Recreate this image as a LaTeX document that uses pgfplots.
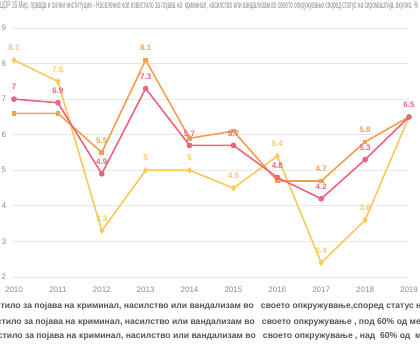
\documentclass[border=0pt]{standalone}
\usepackage{pgfplots}
\pgfplotsset{compat=1.18}
\usepackage{fontspec}
\setmainfont{Liberation Sans}
\usepackage{graphicx}
\definecolor{cy}{HTML}{F9C95C}
\definecolor{co}{HTML}{F3A04A}
\definecolor{cp}{HTML}{EC6580}
\definecolor{gridc}{HTML}{E8E8E8}
\definecolor{tickc}{HTML}{8C8C8C}
\definecolor{legc}{HTML}{555555}
\begin{document}
\begin{tikzpicture}
\useasboundingbox (0pt,0pt) rectangle (420pt,350pt);
\clip (0pt,0pt) rectangle (420pt,350pt);
\node[anchor=north west, inner sep=0, text=tickc] at (0pt,349pt) {\resizebox{418pt}{\height}{\fontsize{10.5}{11}\selectfont ЦОР 16 Мир, правда и силни институции - Население кое известило за појава на\ \ криминал, насилство или вандализам во своето опкружување според статус на сиромаштија, вкупно, \%}};
\begin{axis}[
  at={(11.8pt,73pt)}, anchor=south west, scale only axis,
  width=397.2pt, height=249pt,
  xmin=2009.95, xmax=2019, ymin=2, ymax=9, enlargelimits=false,
  axis line style={draw=none}, ymajorgrids,
  grid style={gridc, line width=0.8pt},
  xtick={2010,...,2019}, ytick={2,...,9},
  major tick length=0pt, tick style={draw=none},
  /pgf/number format/assume math mode=true,
  /pgf/number format/1000 sep={},
  ticklabel style={font=\fontsize{8}{8}\selectfont, text=tickc},
  xticklabel style={anchor=center, yshift=-13pt},
  yticklabel style={anchor=center, xshift=-8pt},
  clip=false,
]
\addplot[cy, line width=1.6pt, mark=diamond*, mark size=2pt] coordinates {(2010,8.1)(2011,7.5)(2012,3.3)(2013,5)(2014,5)(2015,4.5)(2016,5.4)(2017,2.4)(2018,3.6)(2019,6.5)};
\addplot[co, line width=1.6pt, mark=square*, mark size=1.5pt] coordinates {(2010,6.6)(2011,6.6)(2012,5.5)(2013,8.1)(2014,5.9)(2015,6.1)(2016,4.7)(2017,4.7)(2018,5.8)(2019,6.5)};
\addplot[cp, line width=1.6pt, mark=*, mark size=2pt] coordinates {(2010,7)(2011,6.9)(2012,4.9)(2013,7.3)(2014,5.7)(2015,5.7)(2016,4.8)(2017,4.2)(2018,5.3)(2019,6.5)};
\addplot[draw=none, mark=none, nodes near coords, point meta=explicit symbolic,
  nodes near coords style={font=\bfseries\fontsize{8}{8}\selectfont, text=cy, anchor=center, yshift=12pt}]
  coordinates {(2010,8.1)[8.1] (2011,7.5)[7.5] (2012,3.3)[3.3] (2013,5)[5] (2014,5)[5] (2015,4.5)[4.5] (2016,5.4)[5.4] (2017,2.4)[2.4] (2018,3.6)[3.6]};
\addplot[draw=none, mark=none, nodes near coords, point meta=explicit symbolic,
  nodes near coords style={font=\bfseries\fontsize{8}{8}\selectfont, text=co, anchor=center, yshift=12pt}]
  coordinates {(2012,5.5)[5.5] (2013,8.1)[8.1] (2017,4.7)[4.7] (2018,5.8)[5.8]};
\addplot[draw=none, mark=none, nodes near coords, point meta=explicit symbolic,
  nodes near coords style={font=\bfseries\fontsize{8}{8}\selectfont, text=cp, anchor=center, yshift=12pt}]
  coordinates {(2010,7)[7] (2011,6.9)[6.9] (2012,4.9)[4.9] (2013,7.3)[7.3] (2014,5.7)[5.7] (2015,5.7)[5.7] (2016,4.8)[4.8] (2017,4.2)[4.2] (2018,5.3)[5.3] (2019,6.5)[6.5]};
\end{axis}
\begin{scope}[every node/.style={inner sep=0, text=legc, font=\bfseries\fontsize{8.6}{9}\selectfont}]
\node[anchor=base east] at (77pt,41pt) {Население кое известило за појава на\ \ };
\node[anchor=base west] at (77pt,41pt) {криминал, насилство или вандализам во\ \ \ своето опкружување,според статус на сиромаштија, вкупно};
\node[anchor=base east] at (78pt,25pt) {Население кое известило за појава на\ \ };
\node[anchor=base west] at (78pt,25pt) {криминал, насилство или вандализам во\ \ \ своето опкружување , под 60\% од медијаната};
\node[anchor=base east] at (79pt,11pt) {Население кое известило за појава на\ \ };
\node[anchor=base west] at (79pt,11pt) {криминал, насилство или вандализам во\ \ \ своето опкружување , над\ \ 60\% од\ \ медијаната};
\end{scope}
\end{tikzpicture}
\end{document}
